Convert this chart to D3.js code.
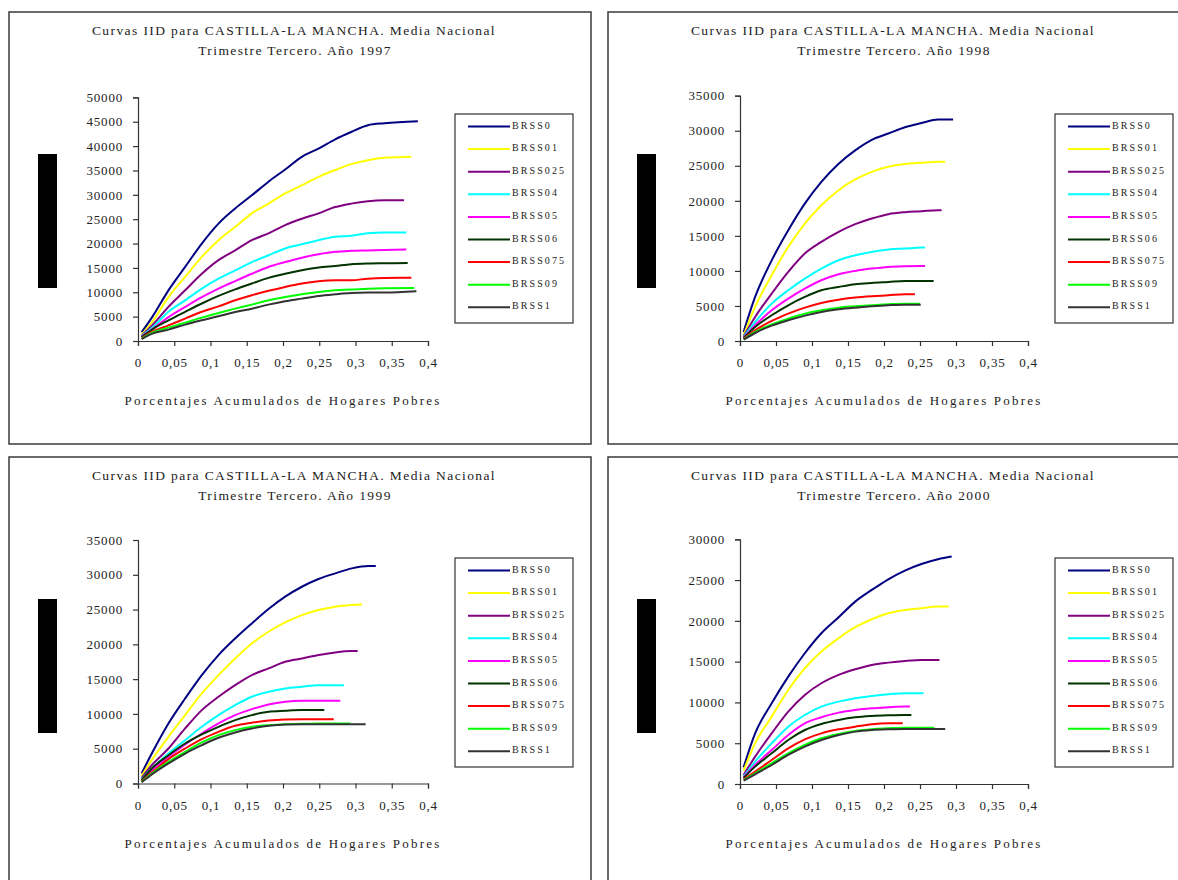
<!DOCTYPE html>
<html>
<head>
<meta charset="utf-8">
<script src="https://cdn.jsdelivr.net/npm/d3@7"></script>
<style>
  body { margin: 0; background: #fff; }
  text { font-family: "Liberation Serif", "Times New Roman", serif; fill: #222; }
</style>
</head>
<body>
<div id="chart"></div>
<script>
// series names and colours (same for the four panels)
const seriesNames = ['BRSS0', 'BRSS01', 'BRSS025', 'BRSS04', 'BRSS05', 'BRSS06', 'BRSS075', 'BRSS09', 'BRSS1'];
const seriesColors = ['#000080', '#ffff00', '#800080', '#00ffff', '#ff00ff', '#003300', '#ff0000', '#00ff00', '#333333'];
const xTickValues = [0, 0.05, 0.1, 0.15, 0.2, 0.25, 0.3, 0.35, 0.4];
const years = ['1997', '1998', '1999', '2000'];
const yMaxes = [50000, 35000, 35000, 30000];

// 1997 — values read at the grid points, then the last point of each curve
const xs1997 = [0.005, 0.02, 0.042, 0.065, 0.088, 0.111, 0.134, 0.157, 0.18, 0.203, 0.226, 0.249, 0.272, 0.294, 0.317, 0.34];
const vals1997 = [
  [1800, 5000, 10400, 15200, 20000, 24100, 27200, 29900, 32700, 35200, 37800, 39500, 41400, 42900, 44300, 44700],
  [1300, 4000, 9000, 13150, 17260, 20700, 23400, 26200, 28200, 30300, 32000, 33700, 35100, 36300, 37100, 37600],
  [1100, 3300, 7000, 10400, 13800, 16600, 18600, 20700, 22100, 23800, 25100, 26200, 27500, 28200, 28700, 28900],
  [1000, 2800, 6000, 8350, 10750, 12800, 14500, 16200, 17600, 19000, 19860, 20700, 21400, 21600, 22100, 22260],
  [900, 2500, 4900, 7000, 9000, 10750, 12300, 13800, 15200, 16200, 17100, 17800, 18300, 18500, 18600, 18700],
  [800, 2400, 4250, 6000, 7700, 9250, 10600, 11800, 12950, 13800, 14500, 15070, 15400, 15750, 15900, 15950],
  [600, 1900, 3200, 4600, 6000, 7100, 8350, 9400, 10300, 11100, 11800, 12260, 12470, 12470, 12800, 12950],
  [500, 1700, 2740, 3770, 4800, 5750, 6640, 7470, 8350, 9040, 9600, 10070, 10400, 10550, 10750, 10850],
  [400, 1500, 2330, 3360, 4250, 5070, 5960, 6640, 7470, 8150, 8700, 9250, 9600, 9860, 9930, 9930]
];
const end1997 = [[0.386, 45100], [0.377, 37800], [0.367, 28900], [0.37, 22260], [0.37, 18770], [0.372, 16000], [0.377, 13000], [0.381, 10900], [0.384, 10200]];

// 1998
const xs1998 = [0.005, 0.021, 0.044, 0.067, 0.09, 0.113, 0.137, 0.16, 0.183, 0.206, 0.229, 0.252, 0.275];
const vals1998 = [
  [1290, 6290, 11500, 15800, 19600, 22700, 25300, 27200, 28700, 29600, 30500, 31100, 31600],
  [800, 4860, 9380, 13430, 16760, 19380, 21520, 23050, 24140, 24860, 25240, 25430, 25570],
  [670, 3430, 6760, 9860, 12480, 14140, 15570, 16670, 17480, 18100, 18380, 18520, 18670],
  [570, 2710, 5330, 7240, 8900, 10330, 11520, 12240, 12710, 13050, 13190, 13330],
  [480, 2240, 4380, 6050, 7480, 8670, 9520, 10000, 10330, 10570, 10670, 10710],
  [430, 2000, 3670, 5100, 6290, 7240, 7710, 8100, 8290, 8430, 8570, 8570],
  [330, 1520, 2860, 3900, 4760, 5430, 5900, 6190, 6380, 6520, 6670],
  [240, 1290, 2380, 3190, 3900, 4380, 4760, 4950, 5100, 5240, 5330],
  [190, 1140, 2190, 2950, 3620, 4140, 4520, 4760, 4950, 5100, 5190]
];
const end1998 = [[0.296, 31600], [0.285, 25570], [0.28, 18670], [0.257, 13330], [0.257, 10710], [0.269, 8570], [0.243, 6670], [0.25, 5330], [0.251, 5190]];

// 1999
const xs1999 = [0.005, 0.019, 0.042, 0.065, 0.088, 0.111, 0.134, 0.157, 0.18, 0.203, 0.226, 0.249, 0.272, 0.295, 0.318];
const vals1999 = [
  [1440, 4310, 8630, 12220, 15580, 18460, 20850, 23010, 25070, 26850, 28280, 29390, 30200, 30920, 31260],
  [1100, 3360, 6710, 9830, 12940, 15580, 17980, 20130, 21810, 23150, 24210, 24930, 25410, 25650],
  [815, 2640, 5030, 7910, 10550, 12470, 14140, 15580, 16540, 17500, 17980, 18460, 18840, 19030],
  [620, 2160, 4310, 6230, 8150, 9830, 11270, 12470, 13180, 13660, 13900, 14140, 14140],
  [480, 1920, 3840, 5610, 7190, 8630, 9830, 10690, 11360, 11750, 11890, 11890, 11890],
  [480, 2160, 4070, 5750, 7050, 8150, 9110, 9830, 10310, 10450, 10550, 10550],
  [340, 1580, 3500, 5030, 6380, 7430, 8290, 8730, 9060, 9210, 9250, 9250],
  [240, 1440, 3120, 4550, 5900, 6950, 7670, 8150, 8390, 8530, 8580, 8630, 8630],
  [190, 1290, 2880, 4310, 5510, 6570, 7340, 7910, 8290, 8490, 8530, 8530, 8530, 8530]
];
const end1999 = [[0.328, 31260], [0.309, 25740], [0.303, 19030], [0.284, 14140], [0.279, 11890], [0.257, 10550], [0.27, 9250], [0.293, 8630], [0.314, 8530]];

// 2000
const xs2000 = [0.005, 0.021, 0.044, 0.067, 0.09, 0.113, 0.137, 0.16, 0.183, 0.206, 0.229, 0.252, 0.275];
const vals2000 = [
  [2040, 6210, 9890, 13160, 16030, 18480, 20440, 22360, 23790, 25100, 26170, 26980, 27560],
  [1640, 4990, 8260, 11530, 14190, 16230, 17870, 19220, 20200, 20930, 21340, 21550, 21750],
  [1100, 3350, 6210, 8870, 10920, 12350, 13370, 14060, 14600, 14880, 15090, 15210],
  [900, 2740, 4990, 7030, 8460, 9490, 10100, 10510, 10790, 11000, 11120],
  [820, 2330, 4170, 6010, 7440, 8180, 8750, 9080, 9280, 9400, 9490],
  [740, 2130, 3760, 5400, 6620, 7360, 7850, 8180, 8340, 8420, 8460],
  [570, 1510, 2940, 4370, 5480, 6210, 6700, 7030, 7320, 7440],
  [490, 1310, 2540, 3760, 4780, 5600, 6130, 6500, 6710, 6830, 6910, 6910],
  [410, 1190, 2330, 3560, 4580, 5400, 6010, 6420, 6620, 6710, 6750, 6750, 6750]
];
const end2000 = [[0.294, 27880], [0.29, 21750], [0.277, 15210], [0.255, 11120], [0.236, 9490], [0.238, 8460], [0.226, 7440], [0.27, 6910], [0.285, 6750]];

const allXs = [xs1997, xs1998, xs1999, xs2000];
const allVals = [vals1997, vals1998, vals1999, vals2000];
const allEnds = [end1997, end1998, end1999, end2000];

// layout of the four framed charts
const layout = [
  { box: [9, 12], plot: { left: 138, top: 97.4, bottom: 341, width: 290 }, legend: [455, 114] },
  { box: [608, 12], plot: { left: 740, top: 95.7, bottom: 341, width: 288 }, legend: [1055, 114] },
  { box: [9, 457], plot: { left: 138, top: 540, bottom: 783.5, width: 290 }, legend: [455, 558] },
  { box: [608, 457], plot: { left: 740, top: 539.3, bottom: 784, width: 288 }, legend: [1055, 558] }
];

const svg = d3.select('#chart').append('svg')
  .attr('width', 1178)
  .attr('height', 880);

const commaFmt = d => String(d).replace('.', ',');

layout.forEach((lay, p) => {
  const g = svg.append('g');
  const [bx, by] = lay.box;

  // frame
  g.append('rect')
    .attr('x', bx).attr('y', by)
    .attr('width', 582).attr('height', 432)
    .attr('fill', '#fff')
    .attr('stroke', '#3a3a3a')
    .attr('stroke-width', 1.5);

  // title
  g.append('text')
    .attr('x', bx + 285).attr('y', by + 22.5)
    .attr('text-anchor', 'middle')
    .style('font-size', '13.5px')
    .style('letter-spacing', '1.4px')
    .text('Curvas IID para CASTILLA-LA MANCHA. Media Nacional');
  g.append('text')
    .attr('x', bx + 286).attr('y', by + 42.5)
    .attr('text-anchor', 'middle')
    .style('font-size', '13.5px')
    .style('letter-spacing', '1.4px')
    .text('Trimestre Tercero. Año ' + years[p]);

  // the black block left of the axis
  g.append('rect')
    .attr('x', bx + 29).attr('y', by + 142)
    .attr('width', 19).attr('height', 134)
    .attr('fill', '#000');

  const x = d3.scaleLinear()
    .domain([0, 0.4])
    .range([lay.plot.left, lay.plot.left + lay.plot.width]);
  const y = d3.scaleLinear()
    .domain([0, yMaxes[p]])
    .range([lay.plot.bottom, lay.plot.top]);

  const yAxis = g.append('g')
    .attr('transform', `translate(${lay.plot.left},0)`)
    .call(d3.axisLeft(y)
      .tickValues(d3.range(0, yMaxes[p] + 1, 5000))
      .tickSize(5).tickPadding(10)
      .tickFormat(d3.format('d')));
  const xAxis = g.append('g')
    .attr('transform', `translate(0,${lay.plot.bottom})`)
    .call(d3.axisBottom(x)
      .tickValues(xTickValues)
      .tickSize(5).tickPadding(12)
      .tickFormat(commaFmt));

  [yAxis, xAxis].forEach(a => {
    a.selectAll('path, line').attr('stroke', '#333').attr('stroke-width', 1.2);
    a.selectAll('text')
      .attr('fill', '#222')
      .style('font-family', '"Liberation Serif", "Times New Roman", serif')
      .style('font-size', '13px')
      .style('letter-spacing', '0.8px');
  });

  // x axis title
  g.append('text')
    .attr('x', lay.plot.left + lay.plot.width / 2).attr('y', lay.plot.bottom + 64)
    .attr('text-anchor', 'middle')
    .style('font-size', '13px')
    .style('letter-spacing', '2.2px')
    .text('Porcentajes Acumulados de Hogares Pobres');

  // curves
  const line = d3.line()
    .x(d => x(d[0]))
    .y(d => y(d[1]))
    .curve(d3.curveMonotoneX);

  seriesNames.forEach((name, i) => {
    const pts = allVals[p][i].map((v, k) => [allXs[p][k], v]);
    pts.push(allEnds[p][i]);
    g.append('path')
      .datum(pts)
      .attr('fill', 'none')
      .attr('stroke', seriesColors[i])
      .attr('stroke-width', 2)
      .attr('d', line);
  });

  // legend
  const [lx, ly] = lay.legend;
  const leg = g.append('g').attr('transform', `translate(${lx},${ly})`);
  leg.append('rect')
    .attr('width', 118).attr('height', 209)
    .attr('fill', '#fff')
    .attr('stroke', '#333')
    .attr('stroke-width', 1.2);
  const items = leg.selectAll('g.item')
    .data(seriesNames)
    .join('g')
    .attr('class', 'item')
    .attr('transform', (d, i) => `translate(0,${12.5 + i * 22.6})`);
  items.append('line')
    .attr('x1', 13).attr('x2', 55)
    .attr('stroke', (d, i) => seriesColors[i])
    .attr('stroke-width', 2);
  items.append('text')
    .attr('x', 57).attr('y', 2)
    .style('font-size', '10px')
    .style('letter-spacing', '2.1px')
    .attr('fill', '#222')
    .text(d => d);
});
</script>
</body>
</html>
